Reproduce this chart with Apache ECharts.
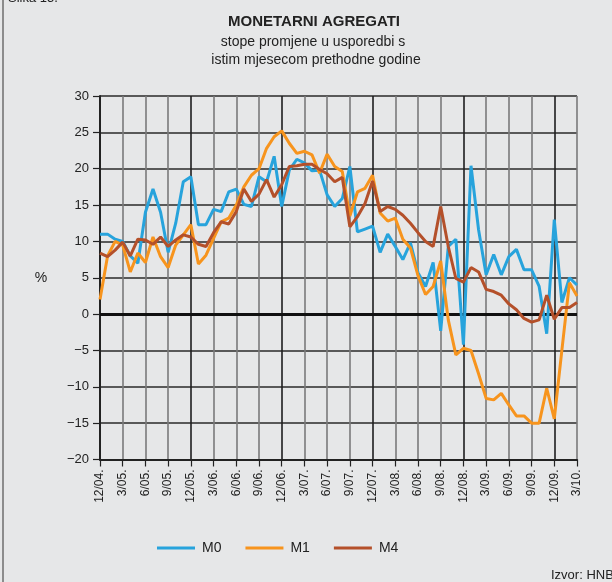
<!DOCTYPE html>
<html>
<head>
<meta charset="utf-8">
<script src="https://cdn.jsdelivr.net/npm/echarts@6/dist/echarts.min.js"></script>
<style>
html,body{margin:0;padding:0;background:#e6e7e8;}
#chart{width:612px;height:582px;}
</style>
</head>
<body>
<div id="chart"></div>
<script>
// Categories: monthly, 12/2004 .. 3/2010
var months = [];
(function(){
  var y = 4, m = 12;
  for (var i = 0; i < 64; i++) {
    months.push(m + '/' + (y < 10 ? '0' + y : '' + y) + '.');
    m++; if (m > 12) { m = 1; y++; }
  }
})();

var yTicks = [30, 25, 20, 15, 10, 5, 0, -5, -10, -15, -20];

var m0 = [11.0, 11.0, 10.3, 10.0, 8.0, 7.0, 14.0, 17.2, 14.0, 8.5, 12.5, 18.2,
  18.9, 12.3, 12.3, 14.4, 14.1, 16.8, 17.2, 15.1, 14.8, 18.9, 18.2, 21.7,
  14.8, 19.8, 21.3, 20.8, 19.7, 19.8, 16.4, 14.8, 15.9, 20.3, 11.3, 11.7,
  12.1, 8.5, 11.0, 9.3, 7.5, 9.8, 5.7, 3.8, 7.1, -2.3, 9.3, 10.3,
  -4.2, 20.4, 11.6, 5.4, 8.2, 5.4, 7.9, 8.9, 6.1, 6.1, 3.8, -2.7,
  13.0, 1.6, 5.0, 4.0];

var m1 = [2.0, 8.0, 10.0, 9.5, 5.8, 8.4, 7.1, 10.6, 7.9, 6.4, 9.5, 10.9,
  12.3, 6.9, 8.1, 10.4, 12.7, 13.2, 15.0, 17.5, 19.1, 20.0, 22.8, 24.4,
  25.2, 23.5, 22.1, 22.4, 21.9, 19.4, 22.0, 20.3, 19.6, 13.5, 16.8, 17.3,
  19.1, 13.9, 12.8, 13.2, 10.3, 9.1, 5.3, 2.7, 3.8, 7.3, -0.8, -5.6,
  -4.7, -5.0, -8.2, -11.6, -11.8, -10.9, -12.5, -14.0, -14.0, -15.0, -15.0, -10.2,
  -14.4, -5.0, 4.3, 2.5];

var m4 = [8.4, 7.9, 8.8, 9.9, 8.0, 10.3, 10.2, 9.6, 10.6, 9.3, 10.2, 10.9,
  10.6, 9.6, 9.3, 11.2, 12.7, 12.4, 14.1, 17.2, 15.5, 16.5, 18.5, 16.1,
  17.8, 20.3, 20.4, 20.6, 20.6, 19.9, 19.3, 18.2, 18.8, 12.0, 13.4, 15.2,
  18.3, 14.1, 14.8, 14.4, 13.6, 12.5, 11.2, 10.0, 9.3, 14.8, 9.3, 4.9,
  4.4, 6.4, 5.8, 3.4, 3.1, 2.6, 1.4, 0.6, -0.6, -1.1, -0.8, 2.6,
  -0.7, 0.9, 0.9, 1.6];

var seriesNames = ['M0', 'M1', 'M4'];
var seriesColors = ['#27a3dc', '#f7941d', '#b4502a'];

var chart = echarts.init(document.getElementById('chart'), null, {renderer: 'canvas'});
var FONT = 'Liberation Sans, Arial, sans-serif';

var option = {
  backgroundColor: '#e6e7e8',
  animation: false,
  textStyle: {fontFamily: FONT},
  grid: {left: 100, right: 35, top: 96, bottom: 122.5, containLabel: false},
  graphic: [
    {type: 'rect', left: 2, top: 0, shape: {width: 2, height: 582}, style: {fill: '#8c8c8c'}},
    {type: 'text', left: 8, top: -8, style: {text: 'Slika 15.', font: '13px ' + FONT, fill: '#222'}},
    {type: 'text', x: 314, y: 22, style: {text: 'MONETARNI AGREGATI', font: 'bold 15px ' + FONT, fill: '#222', align: 'center', verticalAlign: 'middle'}},
    {type: 'text', x: 313, y: 42, style: {text: 'stope promjene u usporedbi s', font: '14px ' + FONT, fill: '#222', align: 'center', verticalAlign: 'middle'}},
    {type: 'text', x: 316, y: 60, style: {text: 'istim mjesecom prethodne godine', font: '14px ' + FONT, fill: '#222', align: 'center', verticalAlign: 'middle'}},
    {type: 'text', x: 41, y: 278, style: {text: '%', font: '14px ' + FONT, fill: '#222', align: 'center', verticalAlign: 'middle'}},
    {type: 'text', x: 551, y: 575, style: {text: 'Izvor: HNB', font: '13px ' + FONT, fill: '#222', align: 'left', verticalAlign: 'middle'}}
  ],
  legend: {
    left: 157, top: 541, padding: 0,
    itemWidth: 38, itemHeight: 3, itemGap: 24,
    icon: 'rect',
    textStyle: {fontSize: 14, color: '#222', fontFamily: FONT, padding: [0, 0, 0, 2]},
    data: seriesNames
  },
  xAxis: {
    type: 'category',
    data: months,
    boundaryGap: false,
    axisLine: {onZero: false, lineStyle: {color: '#222', width: 2}},
    axisTick: {show: true, interval: function(i){ return i % 3 === 0; }, length: 7, lineStyle: {color: '#222', width: 1.2}},
    axisLabel: {interval: function(i){ return i % 3 === 0; }, rotate: 90, margin: 10, fontSize: 12, color: '#222', fontFamily: FONT},
    splitLine: {show: true, interval: function(i){ return i % 3 === 0; }, lineStyle: {color: ['#1e1e1e', '#7a7a7a', '#7a7a7a', '#7a7a7a'], width: 1.6}}
  },
  yAxis: {
    type: 'value',
    min: -20, max: 30, interval: 5,
    axisLine: {show: true, lineStyle: {color: '#222', width: 2}},
    axisTick: {show: true, length: 7, lineStyle: {color: '#222', width: 1.2}},
    axisLabel: {margin: 11, fontSize: 13, color: '#222', fontFamily: FONT,
      formatter: function(v){ return yTicks.indexOf(v) >= 0 ? (v < 0 ? '\u2212' + (-v) : '' + v) : ''; }},
    splitLine: {show: true, lineStyle: {color: '#2a2a2a', width: 1.5}}
  },
  series: [
    {name: 'M0', type: 'line', data: m0, symbol: 'none', smooth: false,
      lineStyle: {width: 3, color: seriesColors[0]}, itemStyle: {color: seriesColors[0]}, z: 3,
      markLine: {silent: true, symbol: 'none', z: 1, label: {show: false},
        lineStyle: {color: '#111', width: 2.8, type: 'solid'}, data: [{yAxis: 0}]}},
    {name: 'M1', type: 'line', data: m1, symbol: 'none', smooth: false,
      lineStyle: {width: 3, color: seriesColors[1]}, itemStyle: {color: seriesColors[1]}, z: 4},
    {name: 'M4', type: 'line', data: m4, symbol: 'none', smooth: false,
      lineStyle: {width: 3, color: seriesColors[2]}, itemStyle: {color: seriesColors[2]}, z: 5}
  ]
};
chart.setOption(option);
</script>
</body>
</html>
